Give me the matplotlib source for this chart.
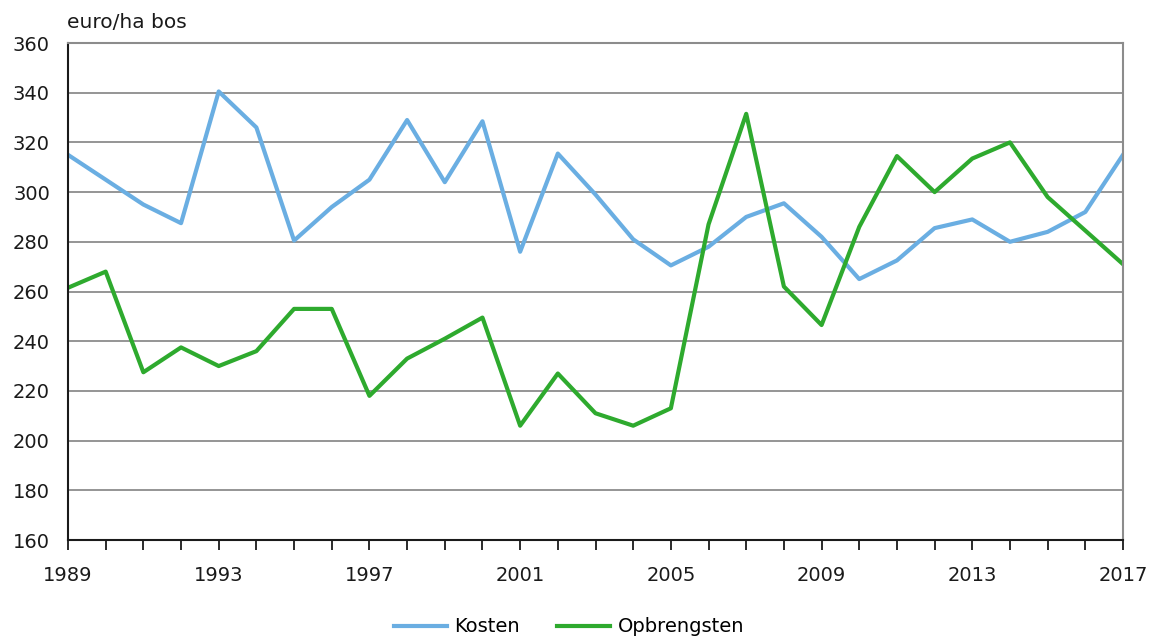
import numpy as np
import matplotlib.pyplot as plt

# data
jaren = list(range(1989, 2018))
kosten = [315, 305, 295, 287.5, 340.5, 326, 280.5, 294, 305, 329,
          304, 328.5, 276, 315.5, 299, 281, 270.5, 278, 290, 295.5,
          282, 265, 272.5, 285.5, 289, 280, 284, 292, 315]
opbrengsten = [261.5, 268, 227.5, 237.5, 230, 236, 253, 253, 218, 233,
               241, 249.5, 206, 227, 211, 206, 213, 287, 331.5, 262,
               246.5, 286, 314.5, 300, 313.5, 320, 298, 284.5, 271]

plt.rcParams['font.family'] = ['DejaVu Sans']

fig = plt.figure(figsize=(11.52, 6.37), dpi=100)
ax = fig.add_axes([68 / 1152, 1 - 540 / 637, 1055 / 1152, 497 / 637])

ax.plot(jaren, kosten, color='#6aaee2', lw=3, label='Kosten')
ax.plot(jaren, opbrengsten, color='#2eaa2e', lw=3, label='Opbrengsten')

ax.set_xlim(1989, 2017)
ax.set_ylim(160, 360)
ax.set_yticks(np.arange(160, 361, 20))
ax.set_xticks(range(1989, 2018, 4))
ax.set_xticks(jaren, minor=True)
ax.yaxis.grid(True, color='#8c8c8c', lw=1.3)
ax.set_axisbelow(True)

ax.tick_params(axis='y', length=0, labelsize=14, pad=13, colors='#1a1a1a')
ax.tick_params(axis='x', which='both', direction='out', length=7, width=1.3,
               labelsize=14, pad=12, colors='#1a1a1a')

for s in ['left', 'bottom']:
    ax.spines[s].set_color('#1a1a1a')
    ax.spines[s].set_linewidth(1.5)
for s in ['top', 'right']:
    ax.spines[s].set_color('#8c8c8c')
    ax.spines[s].set_linewidth(1.5)

fig.text(67 / 1152, 1 - 22 / 637, 'euro/ha bos', fontsize=14.5, va='center',
         color='#1a1a1a')

ax.legend(loc='center', bbox_to_anchor=(0.475, -0.175), ncol=2, frameon=False,
          fontsize=14, handlelength=2.7, columnspacing=1.9, handletextpad=0.4)

fig.savefig('out.png', dpi=100)
